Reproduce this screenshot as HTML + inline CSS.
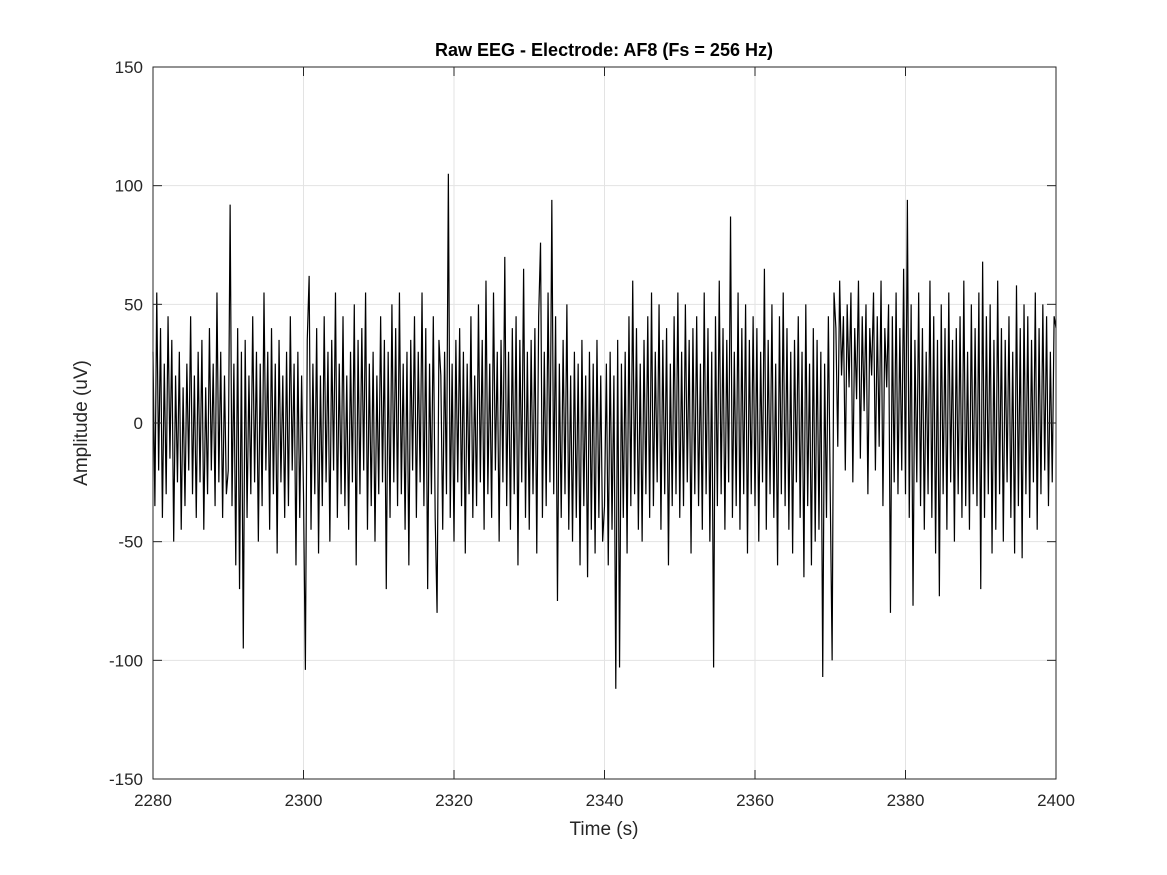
<!DOCTYPE html>
<html><head><meta charset="utf-8"><style>
html,body{margin:0;padding:0;background:#fff;}
svg{display:block;font-family:"Liberation Sans",Arial,sans-serif;}
</style></head><body>
<svg id="chart" width="1167" height="875" viewBox="0 0 1167 875" xmlns="http://www.w3.org/2000/svg">
<rect width="1167" height="875" fill="#fff"/>
<g id="grid"></g>
<g id="signal"></g>
<g id="axes"></g>
<text x="604" y="56" text-anchor="middle" font-size="18" font-weight="bold" fill="#000">Raw EEG - Electrode: AF8 (Fs = 256 Hz)</text>
<text x="604" y="835" text-anchor="middle" font-size="19" fill="#262626">Time (s)</text>
<text transform="translate(87,423) rotate(-90)" text-anchor="middle" font-size="19" fill="#262626">Amplitude (uV)</text>
</svg>
<script>
const xTicks=[2280,2300,2320,2340,2360,2380,2400];
const yTicks=[-150,-100,-50,0,50,100,150];
const tStart=2280, tStep=0.25;
const amplitude=[
30,-35,55,-20,40,-40,25,-30,45,-15,35,-50,20,-25,30,-45,15,-35,25,-20,45,-30,20,-40,30,-25,35,-45,15,-30,40,-20,25,-35,55,-25,30,-40,20,-30,
-20,92,-35,25,-60,40,-70,30,-95,35,-40,20,-30,45,-25,30,-50,25,-35,55,-20,30,-45,40,-30,25,-55,35,-25,20,-40,30,-35,45,-20,25,-60,30,-40,20,
-30,-104,35,62,-45,25,-30,40,-55,20,-35,45,-25,30,-50,35,-20,55,-40,25,-30,45,-35,20,-45,30,-25,50,-60,35,-30,40,-20,55,-45,25,-35,30,-50,20,
-30,45,-25,35,-70,30,-40,50,-25,40,-35,55,-30,25,-45,30,-60,35,-20,45,-40,30,-25,55,-35,40,-70,25,-30,45,-40,-80,35,20,-45,30,-30,105,-40,25,
-50,35,-25,40,-35,30,-55,25,-30,45,-40,20,-35,50,-25,35,-45,60,-30,25,-40,55,-20,30,-50,35,-25,70,-35,30,-45,40,-30,45,-60,35,-25,65,-40,30,
-45,35,-30,40,-55,45,76,-40,30,-35,55,-25,94,-30,45,-75,25,-40,35,-30,50,-45,20,-50,30,-40,25,-60,35,-35,20,-65,30,-45,25,-55,35,-40,20,-50,
-35,25,-60,30,-45,20,-112,35,-103,25,-40,30,-55,45,-35,60,-30,40,-45,25,-50,35,-30,45,-40,55,-35,30,-25,50,-45,35,-30,40,-60,25,-35,45,-30,55,
-40,30,-35,50,-25,35,-55,40,-30,45,-35,25,-45,55,-30,40,-50,30,-103,45,-35,60,-30,40,-45,35,-25,87,-40,30,-35,55,-45,40,-30,50,-55,35,-30,45,
-35,40,-50,30,-25,65,-45,35,-30,50,-40,25,-60,45,-30,55,-35,40,-45,30,-55,35,-25,45,-40,30,-65,50,-35,25,-60,40,-50,35,-45,30,-107,25,-40,45,
-30,-100,55,40,-10,60,20,45,-20,50,15,55,-25,40,10,60,-15,45,5,50,-30,40,20,55,-20,45,-10,60,-35,40,15,50,-80,45,-25,55,-30,40,-20,65,
-30,94,-40,50,-77,35,-25,55,-35,40,-45,30,-30,60,-40,45,-55,35,-73,50,-30,40,-45,55,-25,35,-50,40,-30,45,-40,60,-35,30,-45,50,-30,40,-35,55,
-70,68,-40,45,-30,50,-55,35,-45,60,-30,40,-50,35,-25,45,-40,30,-55,58,-35,40,-57,50,-30,45,-40,35,-25,55,-45,40,-30,50,-20,45,-35,30,-25,45,
40];
const L=153,R=1056,T=67,B=779;
const xMin=2280,xMax=2400,yMin=-150,yMax=150;
const sx=v=>L+(v-xMin)/(xMax-xMin)*(R-L);
const sy=v=>B-(v-yMin)/(yMax-yMin)*(B-T);
const NS="http://www.w3.org/2000/svg";
function mk(tag,attrs,parent){const e=document.createElementNS(NS,tag);for(const k in attrs)e.setAttribute(k,attrs[k]);parent.appendChild(e);return e;}
const grid=document.getElementById('grid'),axes=document.getElementById('axes'),sig=document.getElementById('signal');
xTicks.forEach(t=>{
  const x=sx(t);
  const g=mk('line',{x1:x,x2:x,y1:T,y2:B,stroke:'#e3e3e3','stroke-width':1},grid);
  
  
  mk('line',{x1:x,x2:x,y1:B,y2:B-9,stroke:'#262626','stroke-width':1},axes);
  mk('line',{x1:x,x2:x,y1:T,y2:T+9,stroke:'#262626','stroke-width':1},axes);
  const lb=mk('text',{x:x,y:B+27,'text-anchor':'middle','font-size':17,fill:'#262626'},axes);
  lb.textContent=t;
  
  
});
yTicks.forEach(t=>{
  const y=sy(t);
  const g=mk('line',{x1:L,x2:R,y1:y,y2:y,stroke:'#e3e3e3','stroke-width':1},grid);
  
  
  mk('line',{x1:L,x2:L+9,y1:y,y2:y,stroke:'#262626','stroke-width':1},axes);
  mk('line',{x1:R,x2:R-9,y1:y,y2:y,stroke:'#262626','stroke-width':1},axes);
  const lb=mk('text',{x:L-10,y:y+6,'text-anchor':'end','font-size':17,fill:'#262626'},axes);
  lb.textContent=t;
  
  
});
const box=mk('rect',{x:L,y:T,width:R-L,height:B-T,fill:'none',stroke:'#262626','stroke-width':1},axes);


let d='';
amplitude.forEach((v,i)=>{d+=(i?'L':'M')+sx(tStart+i*tStep).toFixed(2)+','+sy(v).toFixed(2);});
const p=mk('path',{d:d,fill:'none',stroke:'#000','stroke-width':1.2,'stroke-linejoin':'miter'},sig);


</script>
</body></html>
